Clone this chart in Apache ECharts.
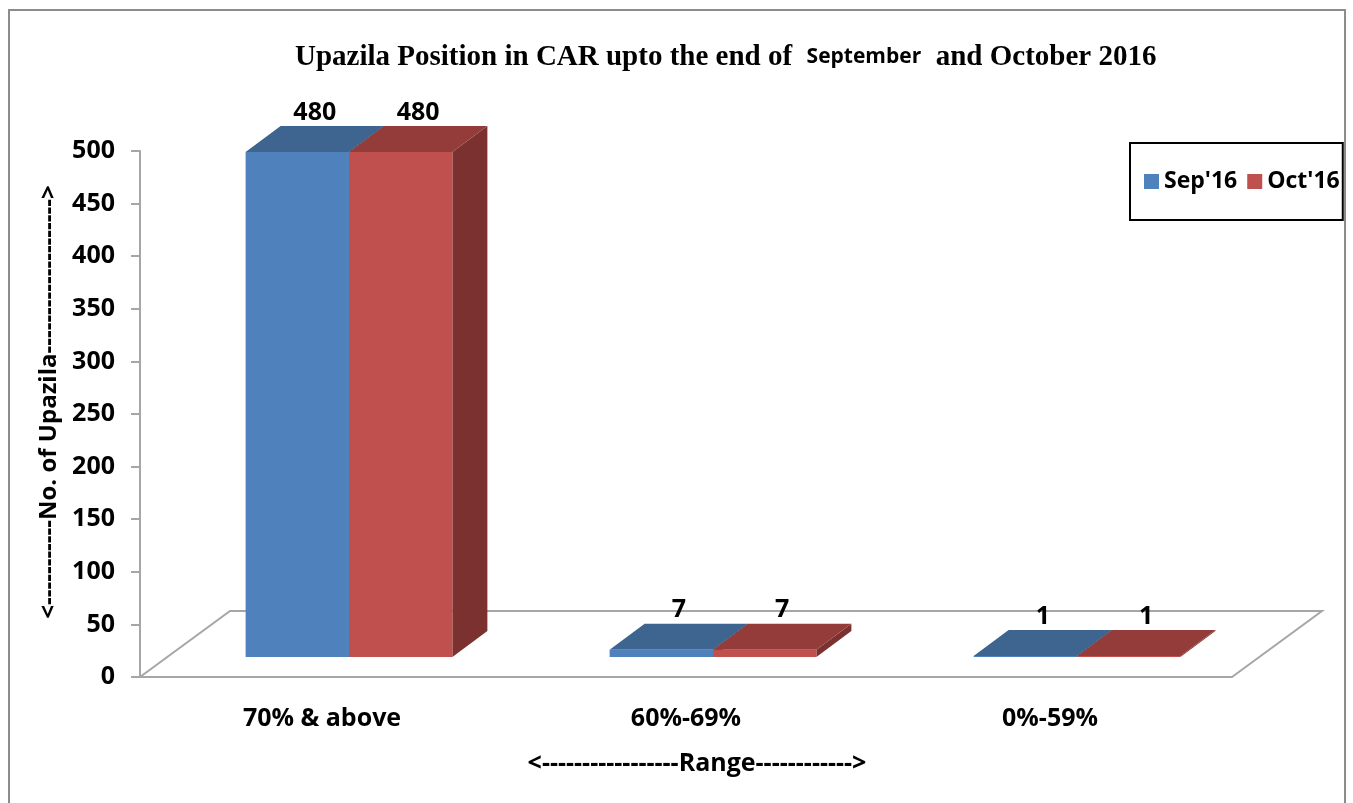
<!DOCTYPE html>
<html>
<head>
<meta charset="utf-8">
<title>Upazila Position in CAR</title>
<style>
  html, body { margin: 0; padding: 0; background: #fff; }
  #main { width: 1353px; height: 803px; }
</style>
</head>
<body>
<div id="main"></div>
<script src="https://cdn.jsdelivr.net/npm/echarts@6/dist/echarts.min.js"></script>
<script>
// data
var categories = ['70% & above', '60%-69%', '0%-59%'];
var seriesNames = ["Sep'16", "Oct'16"];
var sepValues = [480, 7, 1];
var octValues = [480, 7, 1];
var yMin = 0, yMax = 500, yStep = 50;

// fake 3d look (pixel offsets)
var FLOOR_DX = 90, FLOOR_DY = -66;   // full floor depth
var FRONT_DX = 27, FRONT_DY = -20;   // bar front face sits a bit back
var DEPTH_DX = 35, DEPTH_DY = -26;   // bar depth
var BAR_FRAC = 0.284;

var SANS = '"Open Sans", "Liberation Sans", sans-serif';
var palette = [
    { front: '#4F81BD', top: '#3D6590', side: '#335479' },
    { front: '#C0504D', top: '#943C3A', side: '#7A312F' }
];

var myChart = echarts.init(document.getElementById('main'));

function barRenderer(slot) {
    var c = palette[slot];
    return function (params, api) {
        var i = api.value(0), v = api.value(1);
        var base = api.coord([i, 0]);
        var top = api.coord([i, v]);
        var bw = api.size([1, 0])[0] * BAR_FRAC;
        var L = base[0] - bw + slot * bw + FRONT_DX;
        var R = L + bw;
        var B = base[1] + FRONT_DY;
        var T = top[1] + FRONT_DY;
        return {
            type: 'group',
            children: [
                { type: 'polygon', shape: { points: [[R, T], [R + DEPTH_DX, T + DEPTH_DY], [R + DEPTH_DX, B + DEPTH_DY], [R, B]] }, style: { fill: c.side } },
                { type: 'polygon', shape: { points: [[L, T], [R, T], [R + DEPTH_DX, T + DEPTH_DY], [L + DEPTH_DX, T + DEPTH_DY]] }, style: { fill: c.top } },
                { type: 'rect', shape: { x: L, y: T, width: bw, height: B - T }, style: { fill: c.front } },
                { type: 'text', style: { text: String(v), x: L + bw / 2 + DEPTH_DX / 2, y: T + DEPTH_DY - 1, align: 'center', verticalAlign: 'bottom', fill: '#000', font: 'bold 25px ' + SANS } }
            ]
        };
    };
}

function floorRenderer(params, api) {
    var cs = params.coordSys;
    var x0 = cs.x, x1 = cs.x + cs.width, y0 = cs.y + cs.height;
    return {
        type: 'polyline',
        shape: { points: [[x0, y0], [x0 + FLOOR_DX, y0 + FLOOR_DY], [x1 + FLOOR_DX, y0 + FLOOR_DY], [x1, y0]] },
        style: { stroke: '#A6A6A6', lineWidth: 2, fill: null }
    };
}

var option = {
    backgroundColor: '#fff',
    animation: false,
    title: {
        left: 290,
        top: 38,
        text: '{a|Upazila Position in CAR upto the end of  }{b|September}{a|  and October 2016}',
        textStyle: {
            rich: {
                a: { fontFamily: '"Liberation Serif", serif', fontWeight: 'bold', fontSize: 29, color: '#000' },
                b: { fontFamily: SANS, fontWeight: 'bold', fontSize: 21, color: '#000' }
            }
        }
    },
    legend: {
        left: 1130,
        top: 143,
        data: seriesNames,
        icon: 'rect',
        itemWidth: 15,
        itemHeight: 15,
        itemGap: 10,
        padding: [27, 3, 27, 14],
        borderColor: '#000',
        borderWidth: 2,
        textStyle: { fontFamily: SANS, fontWeight: 'bold', fontSize: 23, color: '#000' }
    },
    graphic: [{
        type: 'rect',
        shape: { x: 9, y: 10, width: 1336, height: 800 },
        style: { fill: null, stroke: '#8C8C8C', lineWidth: 2 },
        silent: true
    }],
    grid: { left: 140, right: 121, top: 151, bottom: 126, containLabel: false },
    xAxis: {
        type: 'category',
        data: categories,
        name: '<-----------------Range------------>',
        nameLocation: 'middle',
        nameGap: 74,
        nameTextStyle: { fontFamily: SANS, fontWeight: 'bold', fontSize: 25, color: '#000', padding: [0, 0, 0, 22] },
        axisLine: { lineStyle: { color: '#A6A6A6', width: 2 } },
        axisTick: { length: 10, lineStyle: { color: '#A6A6A6', width: 2 } },
        axisLabel: { margin: 29, fontFamily: SANS, fontWeight: 'bold', fontSize: 25, color: '#000' }
    },
    yAxis: {
        type: 'value',
        min: yMin,
        max: yMax,
        interval: yStep,
        name: '<-----------No. of Upazila-------------------->',
        nameLocation: 'middle',
        nameRotate: 90,
        nameGap: 78,
        nameTextStyle: { fontFamily: SANS, fontWeight: 'bold', fontSize: 24, color: '#000', padding: [0, 0, 0, 24] },
        axisLine: { show: true, lineStyle: { color: '#A6A6A6', width: 2 } },
        axisTick: { show: true, length: 9, lineStyle: { color: '#A6A6A6', width: 2 } },
        splitLine: { show: false },
        axisLabel: { margin: 25, fontFamily: SANS, fontWeight: 'bold', fontSize: 25, color: '#000' }
    },
    series: [
        {
            type: 'custom',
            name: 'floor',
            silent: true,
            z: 1,
            renderItem: floorRenderer,
            data: [[0, 0]]
        },
        {
            type: 'custom',
            name: seriesNames[0],
            z: 2,
            itemStyle: { color: palette[0].front },
            renderItem: barRenderer(0),
            encode: { x: 0, y: 1 },
            data: sepValues.map(function (v, i) { return [i, v]; })
        },
        {
            type: 'custom',
            name: seriesNames[1],
            z: 2,
            itemStyle: { color: palette[1].front },
            renderItem: barRenderer(1),
            encode: { x: 0, y: 1 },
            data: octValues.map(function (v, i) { return [i, v]; })
        }
    ]
};

myChart.setOption(option);
</script>
</body>
</html>
